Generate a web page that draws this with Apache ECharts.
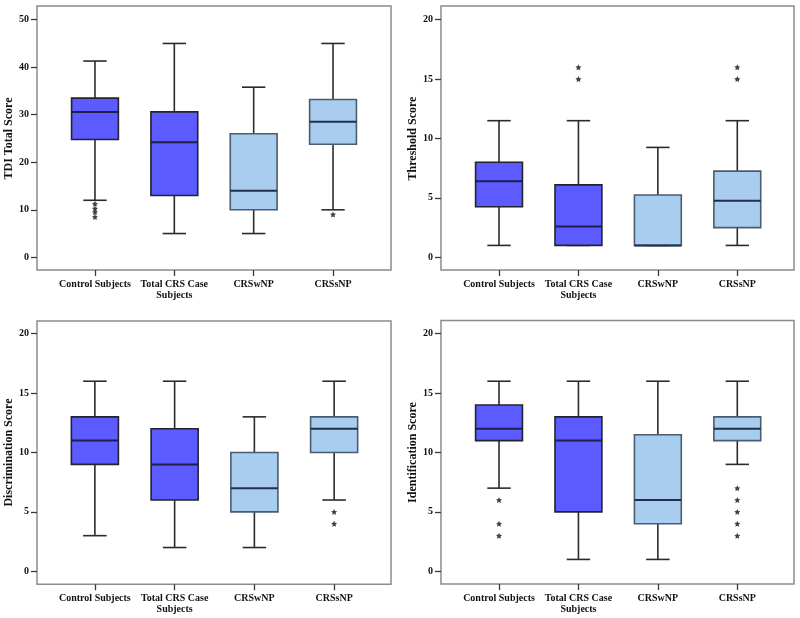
<!DOCTYPE html>
<html>
<head>
<meta charset="utf-8">
<script src="https://cdn.jsdelivr.net/npm/echarts@6/dist/echarts.min.js"></script>
<style>html,body{margin:0;padding:0;background:#fff;}#c{width:800px;height:618px;}</style>
</head>
<body>
<div id="c"></div>
<script>
// ---- data ----
const categories = ['Control Subjects', 'Total CRS Case\nSubjects', 'CRSwNP', 'CRSsNP'];
// [low whisker, Q1, median, Q3, high whisker]
const tdiBoxes = [[12, 24.8, 30.6, 33.5, 41.3], [5, 13, 24.2, 30.6, 45], [5, 10, 14, 26, 35.8], [10, 23.8, 28.5, 33.2, 45]];
const tdiOutliers = [[0, 11.25], [0, 10.25], [0, 9.5], [0, 8.5], [3, 9]];
const thrBoxes = [[1, 4.25, 6.4, 8, 11.5], [1, 1, 2.6, 6.1, 11.5], [1, 1, 1, 5.25, 9.25], [1, 2.5, 4.75, 7.25, 11.5]];
const thrOutliers = [[1, 16], [1, 15], [3, 16], [3, 15]];
const disBoxes = [[3, 9, 11, 13, 16], [2, 6, 9, 12, 16], [2, 5, 7, 10, 13], [6, 10, 12, 13, 16]];
const disOutliers = [[3, 5], [3, 4]];
const idBoxes = [[7, 11, 12, 14, 16], [1, 5, 11, 13, 16], [1, 4, 6, 11.5, 16], [9, 11, 12, 13, 16]];
const idOutliers = [[0, 6], [0, 4], [0, 3], [3, 7], [3, 6], [3, 5], [3, 4], [3, 3]];
const yTitles = ['TDI Total Score', 'Threshold Score', 'Discrimination Score', 'Identification Score'];
const yMax = [50, 20, 20, 20];
const yStep = [10, 5, 5, 5];

// ---- styles ----
const fillColors = ['#5b5bff', '#5b5bff', '#a9cdee', '#a9cdee'];
const borderColors = ['#23232e', '#23232e', '#4a5c70', '#4a5c70'];
const medianColors = ['#1c1f4a', '#1c1f4a', '#1f2f4c', '#1f2f4c'];
const font = 'Liberation Serif';
const star = 'path://M0,-10 L2.9,-4 L9.5,-3.1 L4.7,1.5 L5.9,8.1 L0,5 L-5.9,8.1 L-4.7,1.5 L-9.5,-3.1 L-2.9,-4 Z';

const panels = [
  {frame: {left: 37, top: 6, width: 354, height: 264}, inner: {left: 55.3, top: 19.7, width: 317.4, height: 237.6}, yOff: 18.3, xOff: 12.7, boxes: tdiBoxes, out: tdiOutliers},
  {frame: {left: 441, top: 6, width: 353, height: 264}, inner: {left: 459.3, top: 19.7, width: 317.7, height: 237.6}, yOff: 18.3, xOff: 12.7, boxes: thrBoxes, out: thrOutliers},
  {frame: {left: 37, top: 321, width: 354, height: 263.3}, inner: {left: 55, top: 333.7, width: 319, height: 237.6}, yOff: 18, xOff: 13, boxes: disBoxes, out: disOutliers},
  {frame: {left: 441, top: 320.5, width: 353, height: 263.5}, inner: {left: 459.3, top: 333.7, width: 317.7, height: 237.6}, yOff: 18.3, xOff: 12.7, boxes: idBoxes, out: idOutliers}
];

function renderBox(params, api) {
  const i = api.value(0);
  const lo = api.coord([i, api.value(1)]);
  const q1 = api.coord([i, api.value(2)]);
  const md = api.coord([i, api.value(3)]);
  const q3 = api.coord([i, api.value(4)]);
  const hi = api.coord([i, api.value(5)]);
  const bw = api.size([1, 0])[0] * 0.59;
  const cw = bw / 2;
  const x = lo[0];
  const lineStyle = {stroke: '#2b2b2b', lineWidth: 1.6};
  return {
    type: 'group',
    children: [
      {type: 'line', shape: {x1: x, y1: lo[1], x2: x, y2: q1[1]}, style: lineStyle},
      {type: 'line', shape: {x1: x, y1: q3[1], x2: x, y2: hi[1]}, style: lineStyle},
      {type: 'line', shape: {x1: x - cw / 2, y1: lo[1], x2: x + cw / 2, y2: lo[1]}, style: lineStyle},
      {type: 'line', shape: {x1: x - cw / 2, y1: hi[1], x2: x + cw / 2, y2: hi[1]}, style: lineStyle},
      {type: 'rect', shape: {x: x - bw / 2, y: q3[1], width: bw, height: q1[1] - q3[1]},
        style: {fill: fillColors[i], stroke: borderColors[i], lineWidth: 1.6}},
      {type: 'line', shape: {x1: x - bw / 2, y1: md[1], x2: x + bw / 2, y2: md[1]},
        style: {stroke: medianColors[i], lineWidth: 2}}
    ]
  };
}

const grid = [], xAxis = [], yAxis = [], series = [];
panels.forEach((p, k) => {
  grid.push(Object.assign({show: true, borderColor: '#8c8c8c', borderWidth: 1.5, backgroundColor: 'transparent', z: 0}, p.frame));
  grid.push(Object.assign({show: false}, p.inner));
  const gi = 2 * k + 1;
  xAxis.push({
    type: 'category', gridIndex: gi, data: categories, offset: p.xOff,
    axisLine: {show: false, onZero: false},
    axisTick: {show: true, alignWithLabel: true, length: 6, lineStyle: {color: '#3a3a3a', width: 1.3}},
    axisLabel: {margin: 9, color: '#111', fontFamily: font, fontWeight: 'bold', fontSize: 10, lineHeight: 11, interval: 0},
    splitLine: {show: false}
  });
  yAxis.push({
    type: 'value', gridIndex: gi, min: 0, max: yMax[k], interval: yStep[k], offset: p.yOff,
    name: yTitles[k], nameLocation: 'middle', nameGap: 19, nameRotate: 90,
    nameTextStyle: {color: '#111', fontFamily: font, fontWeight: 'bold', fontSize: 12},
    axisLine: {show: false, onZero: false},
    axisTick: {show: true, length: 6, lineStyle: {color: '#3a3a3a', width: 1.3}},
    axisLabel: {margin: 8, color: '#111', fontFamily: font, fontWeight: 'bold', fontSize: 10},
    splitLine: {show: false}
  });
  series.push({
    type: 'custom', xAxisIndex: k, yAxisIndex: k,
    renderItem: renderBox,
    encode: {x: 0, y: [1, 2, 3, 4, 5]},
    data: p.boxes.map((b, i) => [i].concat(b)),
    z: 2
  });
  series.push({
    type: 'scatter', xAxisIndex: k, yAxisIndex: k,
    symbol: star, symbolSize: 6,
    itemStyle: {color: '#111'},
    data: p.out,
    z: 3
  });
});

const chart = echarts.init(document.getElementById('c'), null, {renderer: 'canvas'});
chart.setOption({
  backgroundColor: '#fff',
  animation: false,
  grid: grid,
  xAxis: xAxis,
  yAxis: yAxis,
  series: series
});
</script>
</body>
</html>
